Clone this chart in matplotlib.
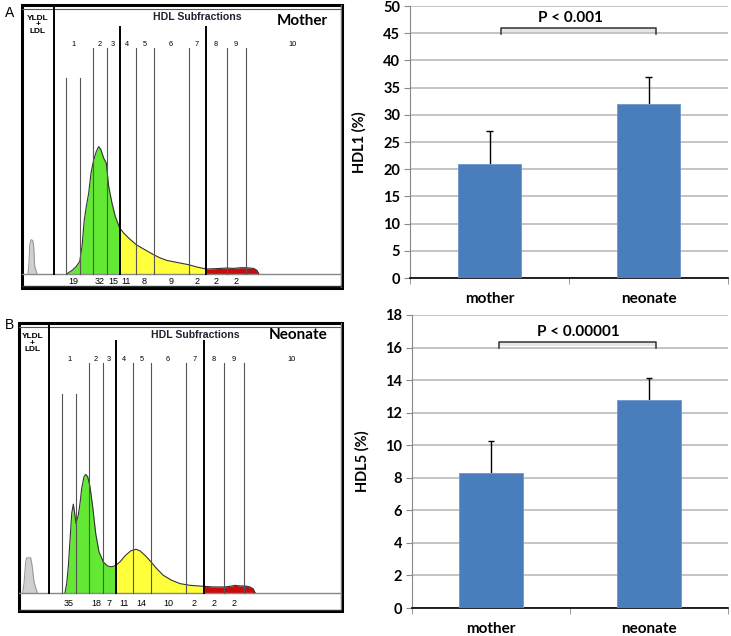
import numpy as np
import matplotlib
matplotlib.use("Agg")
import matplotlib.pyplot as plt
from matplotlib.patches import Rectangle

W, H = 731, 636

# ---- electrophoresis scans (panel units: x from frame left, h above baseline) ----
mother_x = [45, 50, 54.3, 57.7, 60, 62.3, 64.3, 66.7, 69, 71.7, 74.3, 76.7, 79, 81.7, 84.3,
            86.7, 90, 93.3, 97.7, 101.7, 106.7, 114.3, 121.7, 131.7, 138.3, 145, 155, 166.7,
            175, 184.3, 191.7, 198.3, 205, 211.7, 218.3, 224, 231.7, 235, 236.7]
mother_h = [0, 3.3, 7.3, 12.3, 27.3, 54, 67.3, 80.7, 100.7, 114, 122.3, 127.3, 124, 115.7, 110.7,
            87.3, 70.7, 57.3, 45.7, 40.7, 35.7, 29, 24.7, 19, 15.7, 13.3, 11.3, 9,
            6.7, 4.7, 5, 5.3, 5.7, 5.3, 6, 6, 5.3, 3.3, 0]
mother_vldl_x = [6, 7, 7.7, 9, 10.7, 11.7, 12.7, 14.3, 15]
mother_vldl_h = [0, 10.7, 29, 34, 33.3, 27.3, 7.3, 2.3, 0]
mother_lines = [44.3, 57.7, 71, 85, 97.7, 114.3, 131.7, 166.7, 184.3, 205, 224]
mother_pct = ["19", "32", "15", "11", "8", "9", "2", "2", "2"]

neo_x = [46, 47.7, 49.3, 51, 52.7, 54.3, 55.7, 57, 59.3, 61, 62.7, 65, 66.7, 68.7, 71, 73.7,
         76.7, 80, 84.3, 88.3, 92.7, 97, 101, 106, 111.7, 117, 121, 126, 132, 137.7, 144.3,
         152.7, 161, 171, 185, 194.3, 205, 211, 216, 221, 226, 231, 234.3, 236]
neo_h = [0, 9, 25.7, 52.3, 79, 88.3, 79, 69, 77.3, 89, 104, 115.7, 118, 115.7, 105.7, 85.7,
         59, 40.7, 30.7, 26.7, 25.7, 27.3, 30.7, 36.7, 41.7, 43.3, 41.7, 37.3, 30.7, 24, 17.3,
         12.3, 9, 7.3, 6.3, 5.7, 5.7, 6.3, 7.3, 6.7, 6.7, 5.7, 3.7, 0]
neo_vldl_x = [3.7, 5, 6.7, 7.7, 11.7, 13.3, 15, 17.7, 18.3]
neo_vldl_h = [0, 9, 30.7, 34.7, 34.7, 25.7, 10.7, 1.7, 0]
neo_lines = [43, 57.3, 70.3, 84.3, 97, 114.3, 132, 167, 185, 205.3, 225]
neo_pct = ["35", "18", "7", "11", "14", "10", "2", "2", "2"]

# ---- bar charts ----
groups = ["mother", "neonate"]
hdl1 = [21, 32]
hdl1_err = [6, 5]
hdl5 = [8.3, 12.8]
hdl5_err = [1.95, 1.3]


def px(x0, y0, x1, y1):
    return [x0 / W, 1 - y1 / H, (x1 - x0) / W, (y1 - y0) / H]


def scan_panel(fig, box, width, top, bottom, sep, xs, hs, vx, vh, lines, pct,
               label_x, pct_x, title, title_x, name, name_x, name_y, vtext_x,
               tall, mid, short, strip):
    ax = fig.add_axes(px(*box))
    ax.set_xlim(0, width)
    ax.set_ylim(bottom, top)
    ax.axis("off")
    # frame
    ax.add_patch(Rectangle((0, bottom), width, top - bottom, fill=False, ec="black", lw=2.2, clip_on=False))
    ax.plot([0, width], [top - 4.3, top - 4.3], color="#555555", lw=0.8)
    ax.plot([width - 1.2, width - 1.2], [bottom, top], color="#777777", lw=1.0)
    ax.plot([0, width], [0, 0], color="#888888", lw=1.0)
    ax.plot([0, width], [strip, strip], color="#333333", lw=1.0)
    ax.plot([sep, sep], [0, top], color="black", lw=1.4)
    # curves coloured by region
    x = np.array(xs)
    h = np.array(hs)
    regions = [(x[0], lines[4], "#63e834"), (lines[4], lines[8], "#ffff3c"), (lines[8], x[-1], "#cc0a0a")]
    for a, b, c in regions:
        poly = ax.fill_between(x, 0, h, color=c, lw=0)
        clip = Rectangle((a, 0), b - a, top, transform=ax.transData)
        poly.set_clip_path(clip)
    ax.plot(x, h, color="#333333", lw=0.8)
    ax.fill_between(vx, 0, vh, color="#d0d0d0", lw=0)
    ax.plot(vx, vh, color="#999999", lw=0.8)
    # fraction dividers
    heights = [short, short, mid, mid, tall, mid, mid, mid, tall, mid, mid]
    for i, (lx, lh) in enumerate(zip(lines, heights)):
        thick = i in (4, 8)
        ax.plot([lx, lx], [0, lh], color="black" if thick else "#555555", lw=1.4 if thick else 0.8)
    for i, lx in enumerate(label_x):
        ax.text(lx, mid + 4, str(i + 1), fontsize=5.3, ha="center", va="center", family="Liberation Sans")
    for lx, t in zip(pct_x, pct):
        ax.text(lx, strip / 1.6, t, fontsize=6.5, ha="center", va="center", family="Liberation Sans")
    ax.text(title_x, top - 12, title, fontsize=7.6, fontweight="bold", ha="center", va="center",
            family="Liberation Sans", color="#222233")
    ax.text(name_x, name_y, name, fontsize=11, fontweight="bold", ha="center", va="center", family="Lato")
    ax.text(vtext_x, top - 20, "YLDL\n+\nLDL", fontsize=6, fontweight="bold", ha="center", va="center",
            family="Liberation Sans", linespacing=0.85)
    return ax


fig = plt.figure(figsize=(7.31, 6.36), dpi=100)

scan_panel(fig, (22, 5, 342, 288), 320, 269, -14.3, 31.7, mother_x, mother_h,
           mother_vldl_x, mother_vldl_h, mother_lines, mother_pct,
           [51, 77.3, 90.7, 105, 122.7, 148.7, 174.3, 194, 214, 270.7],
           [51, 77.3, 91.3, 104.3, 122.3, 148.7, 175, 194.3, 214],
           "HDL Subfractions", 175, "Mother", 280, 253, 15.7,
           247.3, 225.7, 195.7, -12.7)
scan_panel(fig, (19, 323, 342, 611), 323, 269, -18.3, 30.3, neo_x, neo_h,
           neo_vldl_x, neo_vldl_h, neo_lines, neo_pct,
           [50, 77, 90, 105.3, 122.7, 148.7, 175.3, 194.7, 215, 272.7],
           [49.3, 77.7, 90, 105, 122.7, 149.3, 175.3, 195, 215],
           "HDL Subfractions", 176, "Neonate", 279, 257, 13.3,
           250.7, 229, 198, -17)

fig.text(5 / W, 1 - 13 / H, "A", fontsize=10, ha="left", va="center", family="Liberation Sans")
fig.text(5 / W, 1 - 325 / H, "B", fontsize=10, ha="left", va="center", family="Liberation Sans")


def bar_panel(box, vals, errs, ymax, step, ylabel, br_x, br_y, ptext, p_xy):
    ax = fig.add_axes(px(*box))
    pos = np.array([0.5, 1.5])
    tops = np.array(vals) + np.array(errs)
    ax.vlines(pos, vals, tops, color="black", lw=1, zorder=2.5)
    ax.hlines(tops, pos - 0.02, pos + 0.02, color="black", lw=1, zorder=2.5)
    ax.bar(pos, vals, width=0.4, color="#4a7dbb", edgecolor="#6d97cc", lw=0.6, zorder=3)
    ax.set_xlim(0, 2)
    ax.set_ylim(0, ymax)
    ax.set_yticks(np.arange(0, ymax + step / 2, step))
    ax.yaxis.grid(True, color="#b4b4b4", lw=1.1, zorder=0)
    ax.set_axisbelow(True)
    ax.set_xticks(pos)
    ax.set_xticklabels(groups)
    ax.set_xticks([0, 1, 2], minor=True)
    ax.tick_params(axis="x", which="major", length=0, pad=10, labelsize=11)
    ax.tick_params(axis="x", which="minor", length=4, color="#888888", direction="out")
    ax.tick_params(axis="y", length=4, color="#888888", labelsize=10.5, pad=3)
    for lab in ax.get_xticklabels() + ax.get_yticklabels():
        lab.set_fontweight("bold")
        lab.set_family("Lato")
    for s in ("top", "right"):
        ax.spines[s].set_visible(False)
    ax.spines["left"].set_color("#888888")
    ax.spines["bottom"].set_color("black")
    ax.spines["bottom"].set_linewidth(1.2)
    ax.set_ylabel(ylabel, fontsize=10.5, fontweight="bold", family="Lato")
    ax.yaxis.set_label_coords(-0.135, 0.5)
    # significance bracket
    x0, x1 = br_x
    yb, yf, yt = br_y
    ax.fill_between([x0, x1], yf, yt, color="#e6e6e6", lw=0, zorder=2)
    ax.plot([x0, x0, x1, x1], [yb, yt, yt, yb], color="#333333", lw=1.1, zorder=5, clip_on=False)
    ax.text(p_xy[0], p_xy[1], ptext, fontsize=11, fontweight="bold", ha="center", va="center", family="Lato")
    return ax


bar_panel((410, 6, 728, 278), hdl1, hdl1_err, 50, 5, "HDL1 (%)",
          (0.57, 1.55), (44.85, 45.3, 46.0), "P < 0.001", (1.01, 47.8))
bar_panel((412, 315, 728, 608), hdl5, hdl5_err, 18, 2, "HDL5 (%)",
          (0.55, 1.545), (15.97, 16.1, 16.34), "P < 0.00001", (1.05, 16.95))

fig.savefig("out.png", dpi=100)
